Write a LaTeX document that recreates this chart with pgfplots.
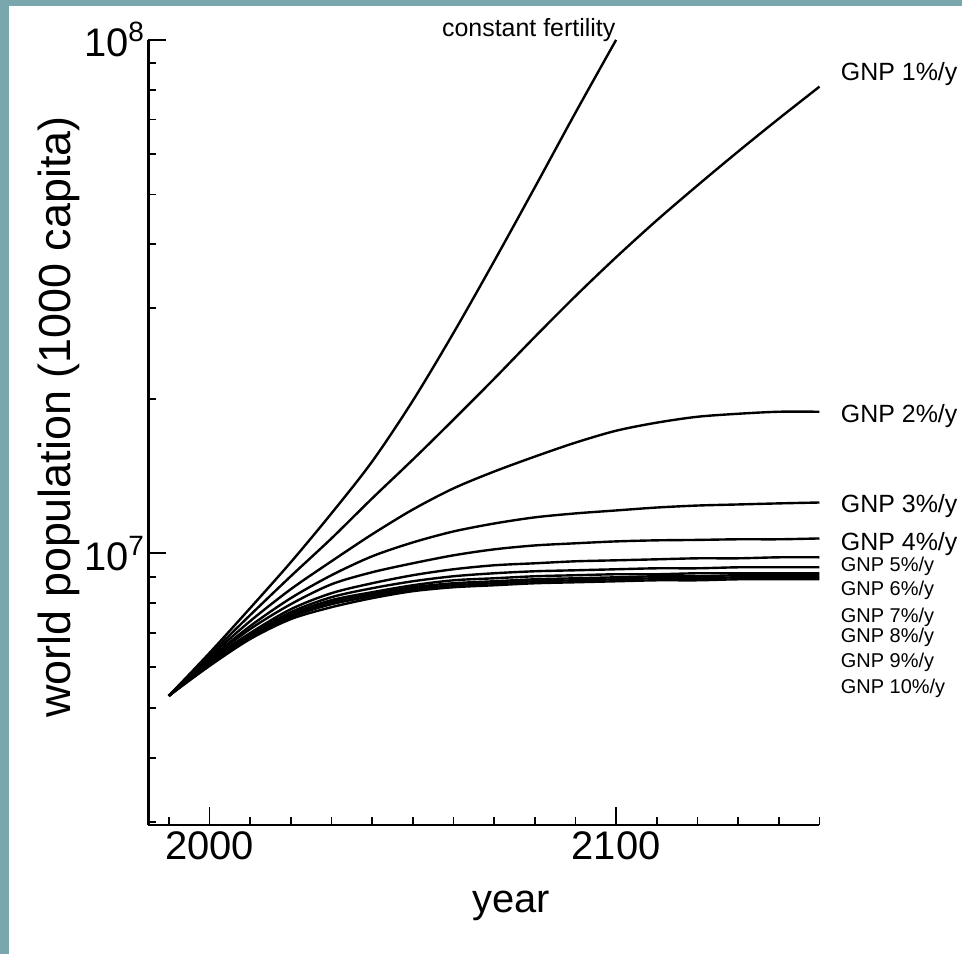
\documentclass[border=0pt]{standalone}
\usepackage{fontspec}
\setmainfont{Liberation Sans}
\usepackage{pgfplots}
\pgfplotsset{compat=1.18}
\definecolor{tealbg}{HTML}{7AA7AE}
\newcommand\lbl{\fontsize{12.5}{15}\selectfont}
\newcommand\slbl{\fontsize{10}{12}\selectfont}
\begin{document}
\begin{tikzpicture}
\fill[white] (-74.4pt,-64.5pt) rectangle (407.6pt,413.5pt);
\fill[tealbg] (-74.4pt,-64.5pt) rectangle (-69.9pt,413.5pt);
\fill[tealbg] (-74.4pt,410.5pt) rectangle (407.6pt,413.5pt);
\begin{axis}[
  at={(0pt,0pt)}, anchor=south west,
  scale only axis, width=336.4pt, height=393.5pt,
  xmin=1985, xmax=2150,
  ymode=log, ymin=2.96e6, ymax=1e8,
  axis x line=bottom, axis y line=left,
  axis line style={-, line width=1.1pt, black},
  tick align=inside,
  xtick={2000,2100},
  minor xtick={1990,2010,2020,2030,2040,2050,2060,2070,2080,2090,2110,2120,2130,2140,2150},
  ytick={1e7,1e8},
  yticklabels={10\textsuperscript{7},10\textsuperscript{8}},
  minor ytick={3e6,4e6,5e6,6e6,7e6,8e6,9e6,2e7,3e7,4e7,5e7,6e7,7e7,8e7,9e7},
  major tick length=9pt, minor tick length=4pt,
  tick style={black, line width=0.9pt},
  /pgf/number format/assume math mode=true,
  /pgf/number format/1000 sep={},
  xticklabel style={font=\fontsize{20}{24}\selectfont},
  yticklabel style={font=\fontsize{20}{24}\selectfont, inner sep=1.5pt},
  clip=false,
  cycle list={black,solid,line width=1.2pt,smooth,no marks\\},
]
% constant fertility
\addplot coordinates {(1990,5.277e6) (2000,6.395e6) (2010,7.820e6) (2020,9.606e6) (2030,1.196e7) (2040,1.509e7) (2050,1.982e7) (2060,2.686e7) (2070,3.706e7) (2080,5.160e7) (2090,7.215e7) (2100,1e8)};
% GNP 1%/y
\addplot coordinates {(1990,5.277e6) (2000,6.338e6) (2010,7.579e6) (2020,9.023e6) (2030,1.069e7) (2040,1.279e7) (2050,1.522e7) (2060,1.821e7) (2070,2.187e7) (2080,2.639e7) (2090,3.169e7) (2100,3.773e7) (2110,4.452e7) (2120,5.206e7) (2130,6.061e7) (2140,7.024e7) (2150,8.107e7)};
% GNP 2%/y
\addplot coordinates {(1990,5.277e6)(2000,6.282e6)(2010,7.378e6)(2020,8.513e6)(2030,9.649e6)(2040,1.089e7)(2050,1.217e7)(2060,1.338e7)(2070,1.443e7)(2080,1.543e7)(2090,1.643e7)(2100,1.733e7)(2110,1.797e7)(2120,1.845e7)(2130,1.870e7)(2140,1.887e7)(2150,1.887e7)};
% GNP 3%/y
\addplot coordinates {(1990,5.277e6)(2000,6.226e6)(2010,7.215e6)(2020,8.178e6)(2030,9.064e6)(2040,9.867e6)(2050,1.050e7)(2060,1.103e7)(2070,1.143e7)(2080,1.175e7)(2090,1.196e7)(2100,1.212e7)(2110,1.228e7)(2120,1.239e7)(2130,1.245e7)(2140,1.251e7)(2150,1.256e7)};
% GNP 4%/y
\addplot coordinates {(1990,5.277e6)(2000,6.198e6)(2010,7.119e6)(2020,7.961e6)(2030,8.704e6)(2040,9.186e6)(2050,9.563e6)(2060,9.911e6)(2070,1.018e7)(2080,1.036e7)(2090,1.046e7)(2100,1.055e7)(2110,1.060e7)(2120,1.062e7)(2130,1.065e7)(2140,1.065e7)(2150,1.069e7)};
% GNP 5%/y
\addplot coordinates {(1990,5.277e6)(2000,6.170e6)(2010,6.993e6)(2020,7.784e6)(2030,8.363e6)(2040,8.744e6)(2050,9.064e6)(2060,9.310e6)(2070,9.478e6)(2080,9.563e6)(2090,9.649e6)(2100,9.692e6)(2110,9.735e6)(2120,9.779e6)(2130,9.779e6)(2140,9.823e6)(2150,9.823e6)};
% GNP 6%/y
\addplot coordinates {(1990,5.277e6)(2000,6.143e6)(2010,6.931e6)(2020,7.681e6)(2030,8.215e6)(2040,8.551e6)(2050,8.822e6)(2060,9.023e6)(2070,9.145e6)(2080,9.227e6)(2090,9.268e6)(2100,9.310e6)(2110,9.351e6)(2120,9.351e6)(2130,9.393e6)(2140,9.393e6)(2150,9.393e6)};
% GNP 7%/y
\addplot coordinates {(1990,5.277e6)(2000,6.115e6)(2010,6.900e6)(2020,7.613e6)(2030,8.105e6)(2040,8.400e6)(2050,8.666e6)(2060,8.861e6)(2070,8.941e6)(2080,9.023e6)(2090,9.064e6)(2100,9.104e6)(2110,9.104e6)(2120,9.145e6)(2130,9.145e6)(2140,9.145e6)(2150,9.145e6)};
% GNP 8%/y
\addplot coordinates {(1990,5.277e6)(2000,6.088e6)(2010,6.869e6)(2020,7.545e6)(2030,8.033e6)(2040,8.325e6)(2050,8.589e6)(2060,8.744e6)(2070,8.822e6)(2080,8.901e6)(2090,8.941e6)(2100,8.981e6)(2110,9.023e6)(2120,9.023e6)(2130,9.064e6)(2140,9.064e6)(2150,9.064e6)};
% GNP 9%/y
\addplot coordinates {(1990,5.277e6)(2000,6.061e6)(2010,6.838e6)(2020,7.512e6)(2030,7.961e6)(2040,8.251e6)(2050,8.513e6)(2060,8.666e6)(2070,8.744e6)(2080,8.822e6)(2090,8.861e6)(2100,8.901e6)(2110,8.941e6)(2120,8.941e6)(2130,8.981e6)(2140,8.981e6)(2150,8.981e6)};
% GNP 10%/y
\addplot coordinates {(1990,5.277e6)(2000,6.034e6)(2010,6.808e6)(2020,7.445e6)(2030,7.855e6)(2040,8.178e6)(2050,8.438e6)(2060,8.589e6)(2070,8.666e6)(2080,8.744e6)(2090,8.783e6)(2100,8.822e6)(2110,8.861e6)(2120,8.861e6)(2130,8.901e6)(2140,8.901e6)(2150,8.901e6)};

\node[anchor=base, font=\lbl] at (rel axis cs:0.5667,1.0038) {constant fertility};
\node[anchor=base west, font=\lbl] at (rel axis cs:1.0215,0.9479) {GNP 1\%/y};
\node[anchor=base west, font=\lbl] at (rel axis cs:1.0215,0.5121) {GNP 2\%/y};
\node[anchor=base west, font=\lbl] at (rel axis cs:1.0215,0.3977) {GNP 3\%/y};
\node[anchor=base west, font=\lbl] at (rel axis cs:1.0215,0.3494) {GNP 4\%/y};
\node[anchor=base west, font=\slbl] at (rel axis cs:1.0215,0.3227) {GNP 5\%/y};
\node[anchor=base west, font=\slbl] at (rel axis cs:1.0215,0.2922) {GNP 6\%/y};
\node[anchor=base west, font=\slbl] at (rel axis cs:1.0215,0.2579) {GNP 7\%/y};
\node[anchor=base west, font=\slbl] at (rel axis cs:1.0215,0.2325) {GNP 8\%/y};
\node[anchor=base west, font=\slbl] at (rel axis cs:1.0215,0.2008) {GNP 9\%/y};
\node[anchor=base west, font=\slbl] at (rel axis cs:1.0215,0.1677) {GNP 10\%/y};
\node[rotate=90, font=\fontsize{22.5}{27}\selectfont] at (rel axis cs:-0.1335,0.5197) {world population (1000 capita)};
\node[font=\fontsize{20}{24}\selectfont] at (rel axis cs:0.541,-0.1036) {year};
\end{axis}
\end{tikzpicture}
\end{document}
